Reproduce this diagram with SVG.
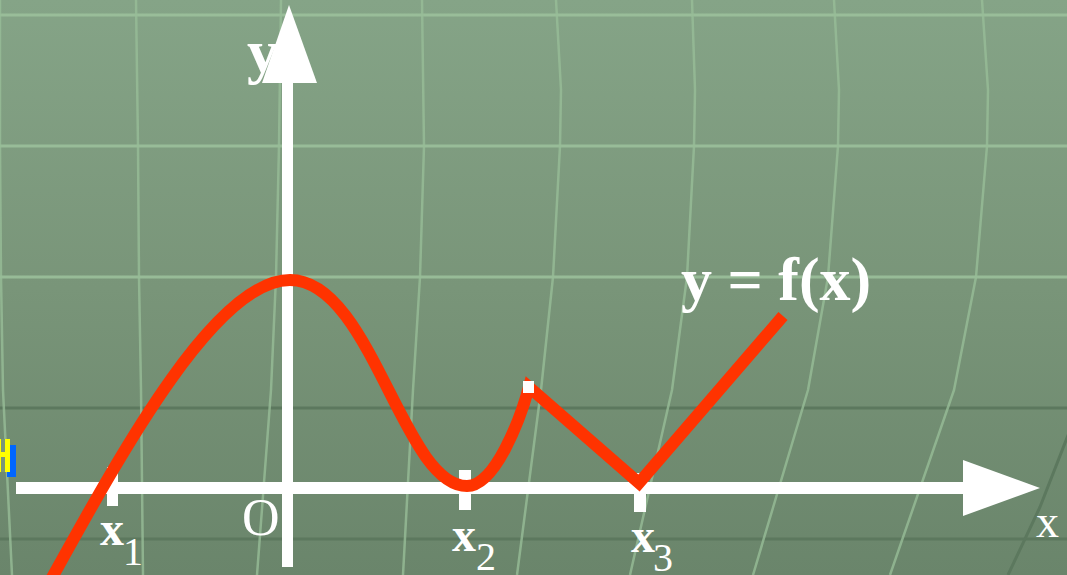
<svg xmlns="http://www.w3.org/2000/svg" width="1067" height="575" viewBox="0 0 1067 575">
<defs>
<linearGradient id="bg" x1="0" y1="0" x2="0" y2="1">
<stop offset="0" stop-color="#85A487"/>
<stop offset="0.5" stop-color="#799579"/>
<stop offset="1" stop-color="#6A856B"/>
</linearGradient>
<style>
.lg{fill:none;stroke:#9CC29C;stroke-width:3;stroke-opacity:0.85;stroke-linejoin:round}
.lv{fill:none;stroke:#97BD97;stroke-width:2.5;stroke-opacity:0.8;stroke-linejoin:round}
.dk{fill:none;stroke:#5C785E;stroke-width:3}
.ax{fill:#FFFFFF}
.t{font-family:"Liberation Serif","Times New Roman",serif;fill:#FFFFFF}
.b{font-weight:bold}
.crv{fill:none;stroke:#FF3300;stroke-width:12;stroke-linejoin:miter;stroke-miterlimit:6}
</style>
</defs>
<rect x="0" y="0" width="1067" height="575" fill="url(#bg)"/>
<g id="grid">
<line class="lg" x1="0" y1="15" x2="1067" y2="15"/>
<line class="lg" x1="0" y1="146" x2="1067" y2="146"/>
<line class="lg" x1="0" y1="277" x2="1067" y2="277"/>
<line class="dk" x1="0" y1="408" x2="1067" y2="408"/>
<line class="dk" x1="0" y1="539" x2="1067" y2="539"/>
<polyline class="lv" points="0,0 0,146 1,277 3,390 12,575"/>
<polyline class="lv" points="136,0 138,146 139,277 141,390 143,575"/>
<polyline class="lv" points="281,0 279,146 276,277 271,390 257,575"/>
<polyline class="lv" points="422,0 424,146 420,277 413,390 403,575"/>
<polyline class="lv" points="556,0 561,90 560,146 553,277 541,390 517,575"/>
<polyline class="lv" points="692,0 695,90 694,146 687,277 672,390 630,575"/>
<polyline class="lv" points="834,0 839,90 838,146 828,277 808,390 753,575"/>
<polyline class="lv" points="982,0 988,90 987,146 976,277 954,390 890,575"/>
<polyline class="dk" points="1072,425 1040,507 1008,575"/>
</g>
<g id="marker-fragment">
<rect x="7" y="445" width="9" height="32" fill="#0066FF"/>
<rect x="0" y="439" width="10" height="33" fill="#FFFF00"/>
<rect x="1" y="439" width="4" height="13" fill="#7A957A"/>
<rect x="1" y="457" width="4" height="15" fill="#7A957A"/>
</g>
<g id="y-label">
<text class="t b" x="247" y="72" font-size="62">y</text>
</g>
<g id="axes">
<rect class="ax" x="282" y="82" width="11" height="485"/>
<polygon class="ax" points="289,5 317,83 262,83"/>
<rect class="ax" x="16" y="482" width="948" height="12"/>
<polygon class="ax" points="963,460 1040,488 963,516"/>
<rect class="ax" x="107" y="467" width="11" height="39"/>
<rect class="ax" x="459" y="470" width="12" height="40"/>
<rect class="ax" x="634" y="473" width="12" height="39"/>
</g>
<g id="labels">
<text class="t" x="242" y="535" font-size="52">O</text>
<text class="t" x="1036" y="537" font-size="46">x</text>
<text class="t b" x="100" y="545" font-size="48">x</text>
<text class="t" x="123" y="565" font-size="40">1</text>
<text class="t b" x="452" y="551" font-size="48">x</text>
<text class="t" x="476" y="570" font-size="40">2</text>
<text class="t b" x="631" y="552" font-size="48">x</text>
<text class="t" x="653" y="571" font-size="40">3</text>
<text class="t b" x="681" y="300" font-size="62">y = f(x)</text>
</g>
<g id="connectors">
<path class="crv" d="M48,585 C120,455 215,280 290,280 C371,280 403,486 467,486 C495,486 520,420 529,387 L639,483 L783,316"/>
<rect x="523" y="381" width="11" height="12" fill="#FFFFFF"/>
</g>
</svg>
